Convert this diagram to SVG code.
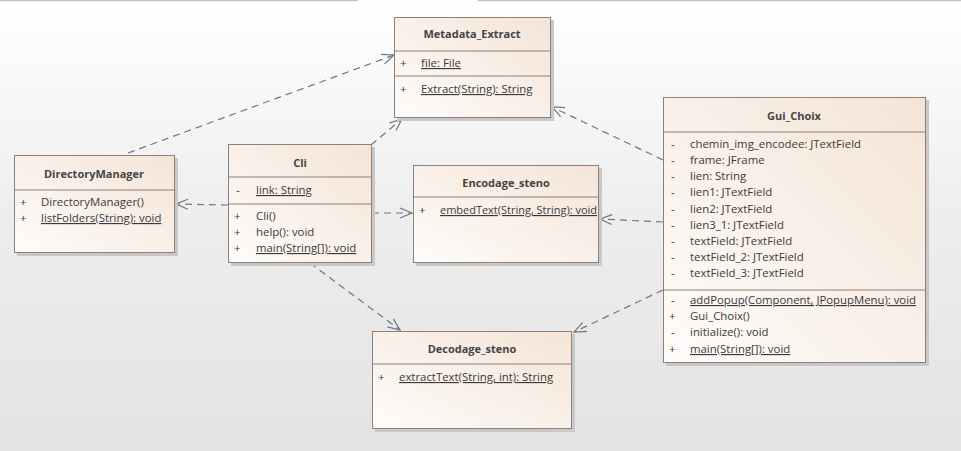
<svg xmlns="http://www.w3.org/2000/svg" width="961" height="451" viewBox="0 0 961 451">
<defs>
<linearGradient id="bg" x1="0" y1="0" x2="0" y2="1">
<stop offset="0" stop-color="#ffffff"/>
<stop offset="0.5" stop-color="#ededed"/>
<stop offset="1" stop-color="#e3e3e3"/>
</linearGradient>
<linearGradient id="box" x1="1" y1="0" x2="0" y2="1">
<stop offset="0" stop-color="#f4e4d6"/>
<stop offset="1" stop-color="#fefcfa"/>
</linearGradient>
<marker id="arr" markerWidth="14" markerHeight="12" refX="13" refY="6" orient="auto" markerUnits="userSpaceOnUse">
<path d="M1,1 L13,6 L1,11" fill="none" stroke="#6f7585" stroke-width="1.2"/>
</marker>
</defs>
<style>
.b{fill:url(#box);stroke:#8e7f7a;stroke-width:1}
.sh{fill:#c8c8c8}
.dv{stroke:#8e7f7a;stroke-width:1}
text{font-family:"Open Sans","Liberation Sans",sans-serif;font-size:11.4px;fill:#3a3a3a}
.n{font-weight:bold;text-anchor:middle;fill:#444;font-size:11px}
.u{text-decoration:underline}
.c{fill:none;stroke:#6f7585;stroke-width:1.2;stroke-dasharray:7,5;marker-end:url(#arr)}
</style>
<rect width="961" height="451" fill="url(#bg)"/>
<line x1="0" y1="0.5" x2="358" y2="0.5" stroke="#c4c4c4" stroke-width="1.5"/>
<line x1="478" y1="0.5" x2="961" y2="0.5" stroke="#c4c4c4" stroke-width="1.5"/>

<g id="connectors">
<line class="c" x1="128" y1="153" x2="394" y2="55"/>
<line class="c" x1="371" y1="145" x2="402" y2="119"/>
<line class="c" x1="228" y1="205" x2="176" y2="204"/>
<line class="c" x1="372" y1="213" x2="412" y2="213"/>
<line class="c" x1="310" y1="263" x2="400" y2="330"/>
<line class="c" x1="663" y1="160" x2="552" y2="107"/>
<line class="c" x1="663" y1="222" x2="600" y2="219"/>
<line class="c" x1="663" y1="290" x2="574" y2="332"/>
</g>

<g id="Metadata_Extract">
<rect class="sh" x="397" y="20" width="157" height="101"/>
<rect class="b" x="394.5" y="17.5" width="156" height="100"/>
<line class="dv" x1="394.5" y1="51" x2="550.5" y2="51"/>
<line class="dv" x1="394.5" y1="76" x2="550.5" y2="76"/>
<text class="n" x="472" y="38">Metadata_Extract</text>
<text x="400" y="67">+</text>
<text class="u" x="421" y="67">file: File</text>
<text x="400" y="93">+</text>
<text class="u" x="421" y="93">Extract(String): String</text>
</g>

<g id="DirectoryManager">
<rect class="sh" x="17" y="158" width="161" height="98"/>
<rect class="b" x="14.5" y="155.5" width="160" height="97"/>
<line class="dv" x1="14.5" y1="190" x2="174.5" y2="190"/>
<text class="n" x="94" y="178">DirectoryManager</text>
<text x="20" y="206">+</text>
<text x="41" y="206">DirectoryManager()</text>
<text x="20" y="222">+</text>
<text class="u" x="41" y="222">listFolders(String): void</text>
</g>

<g id="Cli">
<rect class="sh" x="231" y="147" width="144" height="119"/>
<rect class="b" x="228.5" y="144.5" width="143" height="118"/>
<line class="dv" x1="228.5" y1="177" x2="371.5" y2="177"/>
<line class="dv" x1="228.5" y1="204" x2="371.5" y2="204"/>
<text class="n" x="300" y="167">Cli</text>
<text x="236" y="194">-</text>
<text class="u" x="256" y="194">link: String</text>
<text x="234" y="220">+</text>
<text x="256" y="220">Cli()</text>
<text x="234" y="236">+</text>
<text x="256" y="236">help(): void</text>
<text x="234" y="252">+</text>
<text class="u" x="256" y="252">main(String[]): void</text>
</g>

<g id="Encodage_steno">
<rect class="sh" x="416" y="168" width="186" height="98"/>
<rect class="b" x="413.5" y="165.5" width="185" height="97"/>
<line class="dv" x1="413.5" y1="197" x2="598.5" y2="197"/>
<text class="n" x="506" y="187">Encodage_steno</text>
<text x="419" y="214">+</text>
<text class="u" x="440" y="214" textLength="157" lengthAdjust="spacingAndGlyphs">embedText(String, String): void</text>
</g>

<g id="Gui_Choix">
<rect class="sh" x="666" y="100" width="263" height="266"/>
<rect class="b" x="663.5" y="97.5" width="262" height="265"/>
<line class="dv" x1="663.5" y1="132" x2="925.5" y2="132"/>
<line class="dv" x1="663.5" y1="290" x2="925.5" y2="290"/>
<text class="n" x="794" y="120">Gui_Choix</text>
<text x="671" y="148">-</text><text x="690" y="148">chemin_img_encodee: JTextField</text>
<text x="671" y="164">-</text><text x="690" y="164">frame: JFrame</text>
<text x="671" y="180">-</text><text x="690" y="180">lien: String</text>
<text x="671" y="196">-</text><text x="690" y="196">lien1: JTextField</text>
<text x="671" y="213">-</text><text x="690" y="213">lien2: JTextField</text>
<text x="671" y="229">-</text><text x="690" y="229">lien3_1: JTextField</text>
<text x="671" y="245">-</text><text x="690" y="245">textField: JTextField</text>
<text x="671" y="261">-</text><text x="690" y="261">textField_2: JTextField</text>
<text x="671" y="277">-</text><text x="690" y="277">textField_3: JTextField</text>
<text x="671" y="304">-</text><text class="u" x="690" y="304" textLength="226" lengthAdjust="spacingAndGlyphs">addPopup(Component, JPopupMenu): void</text>
<text x="669" y="320">+</text><text x="690" y="320">Gui_Choix()</text>
<text x="671" y="336">-</text><text x="690" y="336">initialize(): void</text>
<text x="669" y="353">+</text><text class="u" x="690" y="353">main(String[]): void</text>
</g>

<g id="Decodage_steno">
<rect class="sh" x="375" y="334" width="200" height="98"/>
<rect class="b" x="372.5" y="331.5" width="199" height="97"/>
<line class="dv" x1="372.5" y1="364" x2="571.5" y2="364"/>
<text class="n" x="472" y="353">Decodage_steno</text>
<text x="378" y="381">+</text>
<text class="u" x="399" y="381">extractText(String, int): String</text>
</g>
</svg>
